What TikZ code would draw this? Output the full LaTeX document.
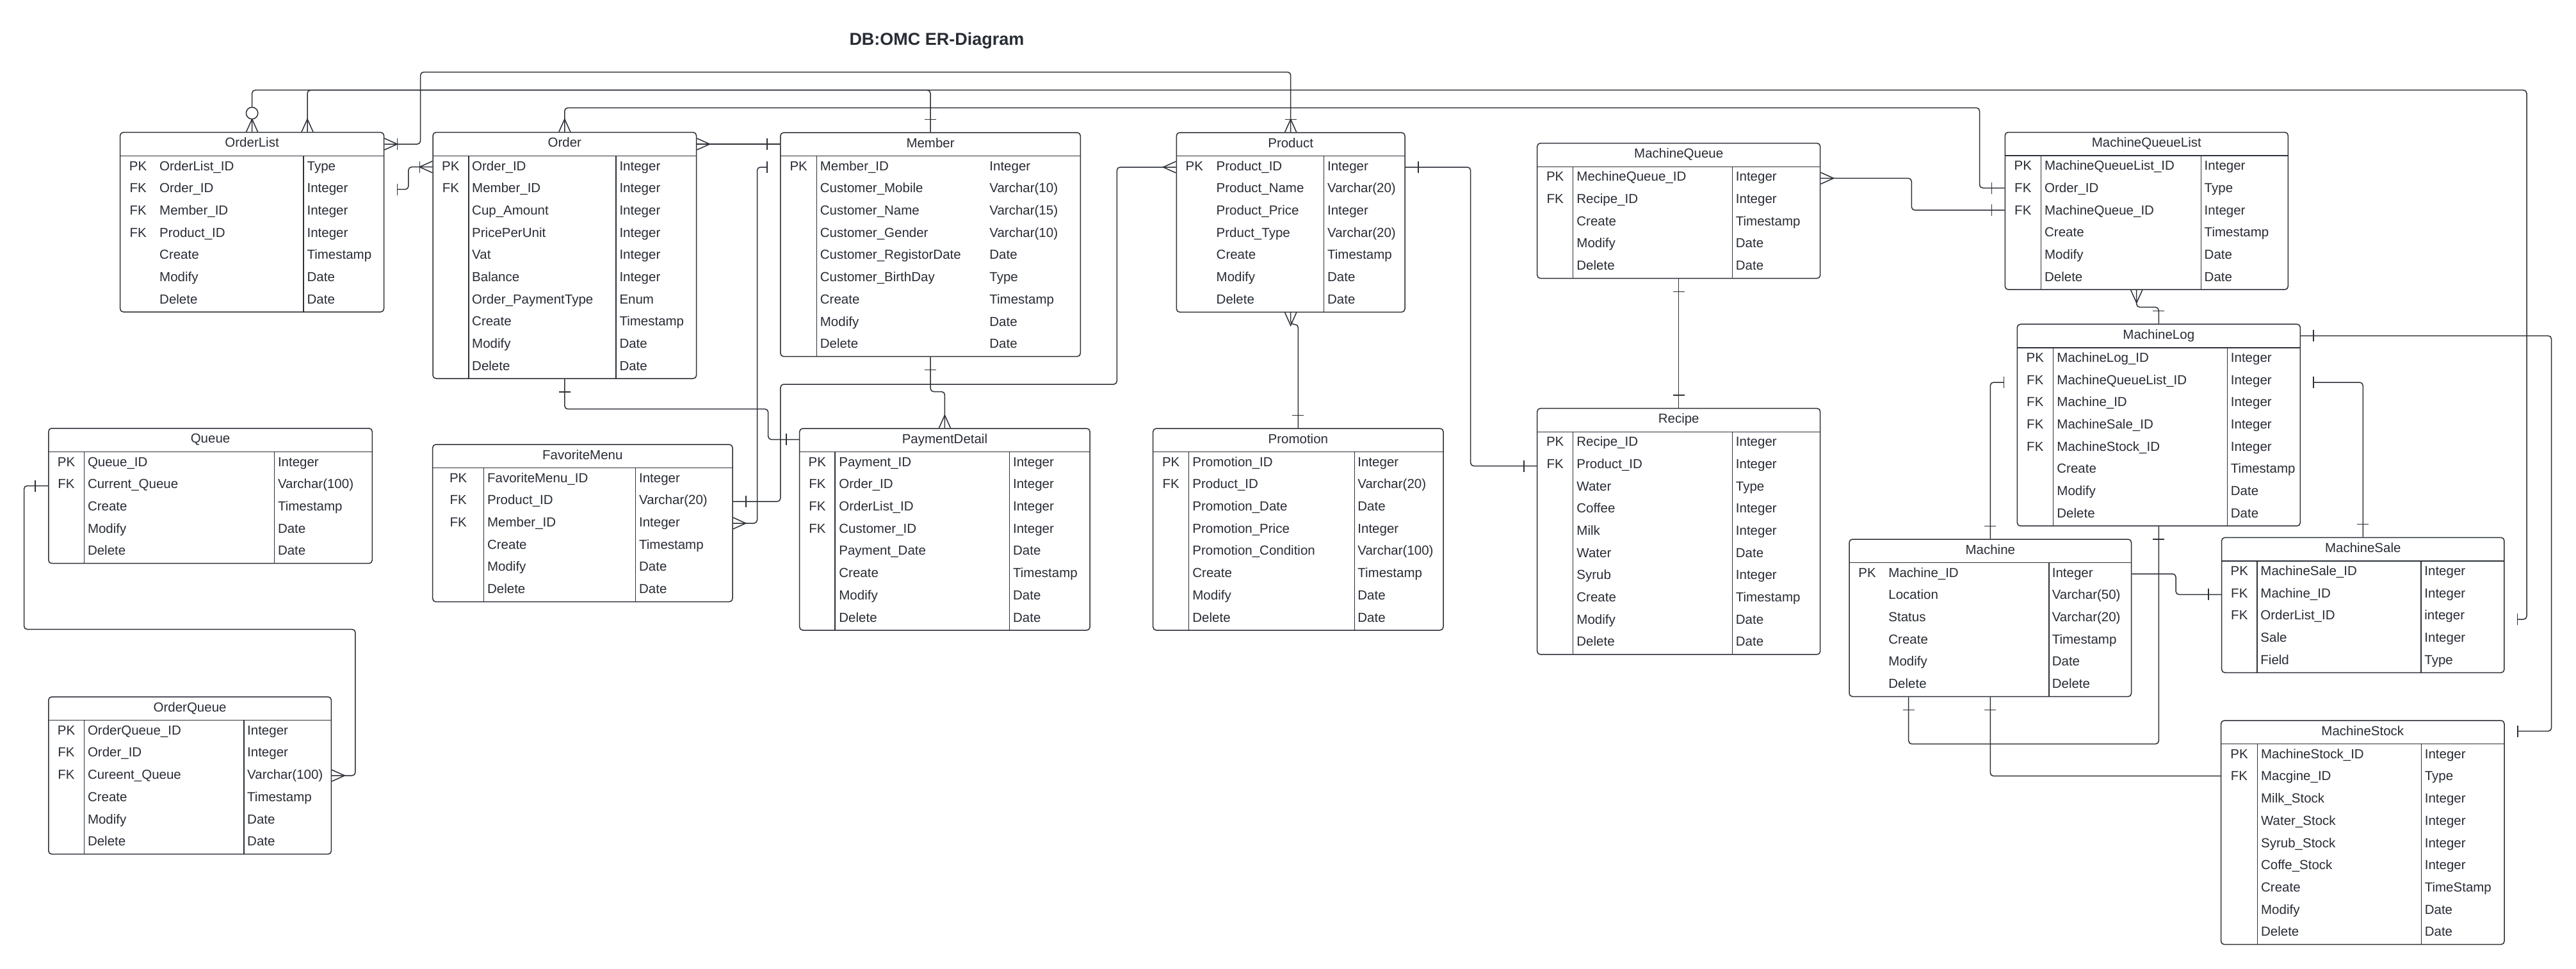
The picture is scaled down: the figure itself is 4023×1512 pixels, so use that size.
\documentclass[tikz,border=0pt]{standalone}
\usepackage{fontspec}
\setmainfont{Liberation Sans}
\usetikzlibrary{fit,calc}
\definecolor{erline}{RGB}{45,49,56}
\definecolor{ertext}{RGB}{40,44,52}
\tikzset{
 erTbl/.style={draw=erline, line width=0.75pt, rounded corners=2.5pt, inner sep=0pt},
 erLn/.style={draw=erline, line width=0.75pt},
 erTtl/.style={anchor=base, inner sep=0pt, text=ertext, font=\fontsize{10.25}{12}\selectfont},
 erKey/.style={anchor=base, inner sep=0pt, text=ertext, font=\fontsize{10.25}{12}\selectfont},
 erFld/.style={anchor=base west, inner sep=0pt, text=ertext, font=\fontsize{10.25}{12}\selectfont},
 erConn/.style={draw=erline, line width=0.75pt, rounded corners=2.5pt},
 erMk/.style={draw=erline, line width=0.75pt},
 pics/erCrow/.style={code={\draw[erMk] (0,9) -- (20,0) -- (0,-9);}},
 pics/erBar/.style={code={\draw[erMk] (20,9) -- (20,-9);}},
 pics/erCirc/.style={code={\draw[erMk, fill=white] (29.3,0) circle[radius=4.6pt];}},
}
\newcommand\erTable[6]{%
  \def\erN{#1}\def\erT{#4}%
  \pgfmathsetmacro\erB{#4+72.3+34.67*(#5-1)}%
  \pgfmathsetmacro\erH{#4+36.7}%
  \node[erTbl, fit={(#2,#4) (#3,\erB)}] (#1) {};%
  \draw[erLn] (#2,\erH) -- (#3,\erH);%
  \node[erTtl] (#1-title) at ({(#2+#3)/2},{#4+23}) {#6};%
}
\newcommand\erDiv[1]{\draw[erLn] (#1,\erH) -- (#1,\erB);}
\newcommand\erCols[3]{\def\erKx{#1}\def\erNx{#2}\def\erYx{#3}}
\newcommand\erRow[4]{%
  \pgfmathsetmacro\erY{\erT+59.3+34.67*#1}%
  \if\relax\detokenize{#2}\relax\else\node[erKey] (\erN-k#1) at (\erKx,\erY) {#2};\fi
  \node[erFld] (\erN-f#1) at (\erNx,\erY) {#3};%
  \node[erFld] (\erN-t#1) at (\erYx,\erY) {#4};%
}
\begin{document}
\begin{tikzpicture}[x=0.5pt,y=-0.5pt]
\fill[white] (0,0) rectangle (4023,1512);
\useasboundingbox (0,0) rectangle (4023,1512);

\node[anchor=base, inner sep=0pt, text=ertext, font=\bfseries\fontsize{13.5}{16}\selectfont] (diagtitle) at (1463,70) {DB:OMC ER-Diagram};

% OrderList
\erTable{OL}{187.6}{599.6}{206.7}{7}{OrderList}
\erDiv{474.2}
\erCols{215.6}{248.8}{479.2}
\erRow{0}{PK}{OrderList\_ID}{Type}
\erRow{1}{FK}{Order\_ID}{Integer}
\erRow{2}{FK}{Member\_ID}{Integer}
\erRow{3}{FK}{Product\_ID}{Integer}
\erRow{4}{}{Create}{Timestamp}
\erRow{5}{}{Modify}{Date}
\erRow{6}{}{Delete}{Date}

% Order
\erTable{OR}{676}{1087.6}{206.7}{10}{Order}
\erDiv{731.8}\erDiv{962.1}
\erCols{703.9}{736.8}{967.1}
\erRow{0}{PK}{Order\_ID}{Integer}
\erRow{1}{FK}{Member\_ID}{Integer}
\erRow{2}{}{Cup\_Amount}{Integer}
\erRow{3}{}{PricePerUnit}{Integer}
\erRow{4}{}{Vat}{Integer}
\erRow{5}{}{Balance}{Integer}
\erRow{6}{}{Order\_PaymentType}{Enum}
\erRow{7}{}{Create}{Timestamp}
\erRow{8}{}{Modify}{Date}
\erRow{9}{}{Delete}{Date}

% Member
\erTable{MB}{1218.9}{1687.3}{207}{9}{Member}
\erDiv{1275.5}
\erCols{1247.2}{1280.5}{1545}
\erRow{0}{PK}{Member\_ID}{Integer}
\erRow{1}{}{Customer\_Mobile}{Varchar(10)}
\erRow{2}{}{Customer\_Name}{Varchar(15)}
\erRow{3}{}{Customer\_Gender}{Varchar(10)}
\erRow{4}{}{Customer\_RegistorDate}{Date}
\erRow{5}{}{Customer\_BirthDay}{Type}
\erRow{6}{}{Create}{Timestamp}
\erRow{7}{}{Modify}{Date}
\erRow{8}{}{Delete}{Date}

% Product
\erTable{PR}{1837.3}{2194}{207}{7}{Product}
\erDiv{2067.3}
\erCols{1865.3}{1899.3}{2072.7}
\erRow{0}{PK}{Product\_ID}{Integer}
\erRow{1}{}{Product\_Name}{Varchar(20)}
\erRow{2}{}{Product\_Price}{Integer}
\erRow{3}{}{Prduct\_Type}{Varchar(20)}
\erRow{4}{}{Create}{Timestamp}
\erRow{5}{}{Modify}{Date}
\erRow{6}{}{Delete}{Date}

% MachineQueue
\erTable{MQ}{2400.7}{2842.7}{223.6}{5}{MachineQueue}
\erDiv{2456.7}\erDiv{2705.3}
\erCols{2428.7}{2462}{2710.5}
\erRow{0}{PK}{MechineQueue\_ID}{Integer}
\erRow{1}{FK}{Recipe\_ID}{Integer}
\erRow{2}{}{Create}{Timestamp}
\erRow{3}{}{Modify}{Date}
\erRow{4}{}{Delete}{Date}

% MachineQueueList
\erTable{MQL}{3131.3}{3573.3}{206.5}{6}{MachineQueueList}
\erDiv{3187.3}\erDiv{3437.3}
\erCols{3159.3}{3192.7}{3442.3}
\erRow{0}{PK}{MachineQueueList\_ID}{Integer}
\erRow{1}{FK}{Order\_ID}{Type}
\erRow{2}{FK}{MachineQueue\_ID}{Integer}
\erRow{3}{}{Create}{Timestamp}
\erRow{4}{}{Modify}{Date}
\erRow{5}{}{Delete}{Date}

% MachineLog
\erTable{ML}{3150.3}{3592.3}{506.2}{8}{MachineLog}
\erDiv{3206.3}\erDiv{3478.7}
\erCols{3178.3}{3212}{3483.5}
\erRow{0}{PK}{MachineLog\_ID}{Integer}
\erRow{1}{FK}{MachineQueueList\_ID}{Integer}
\erRow{2}{FK}{Machine\_ID}{Integer}
\erRow{3}{FK}{MachineSale\_ID}{Integer}
\erRow{4}{FK}{MachineStock\_ID}{Integer}
\erRow{5}{}{Create}{Timestamp}
\erRow{6}{}{Modify}{Date}
\erRow{7}{}{Delete}{Date}

% Queue
\erTable{QU}{75.8}{581.3}{668.75}{5}{Queue}
\erDiv{131.3}\erDiv{428.6}
\erCols{103.5}{136.6}{433.6}
\erRow{0}{PK}{Queue\_ID}{Integer}
\erRow{1}{FK}{Current\_Queue}{Varchar(100)}
\erRow{2}{}{Create}{Timestamp}
\erRow{3}{}{Modify}{Date}
\erRow{4}{}{Delete}{Date}

% FavoriteMenu
\erTable{FM}{675.7}{1144}{694}{6}{FavoriteMenu}
\erDiv{755.7}\erDiv{992.7}
\erCols{715.7}{760.7}{997.7}
\erRow{0}{PK}{FavoriteMenu\_ID}{Integer}
\erRow{1}{FK}{Product\_ID}{Varchar(20)}
\erRow{2}{FK}{Member\_ID}{Integer}
\erRow{3}{}{Create}{Timestamp}
\erRow{4}{}{Modify}{Date}
\erRow{5}{}{Delete}{Date}

% PaymentDetail
\erTable{PD}{1248.7}{1702.2}{669}{8}{PaymentDetail}
\erDiv{1304.2}\erDiv{1576.3}
\erCols{1276.4}{1310}{1581.7}
\erRow{0}{PK}{Payment\_ID}{Integer}
\erRow{1}{FK}{Order\_ID}{Integer}
\erRow{2}{FK}{OrderList\_ID}{Integer}
\erRow{3}{FK}{Customer\_ID}{Integer}
\erRow{4}{}{Payment\_Date}{Date}
\erRow{5}{}{Create}{Timestamp}
\erRow{6}{}{Modify}{Date}
\erRow{7}{}{Delete}{Date}

% Promotion
\erTable{PM}{1800.7}{2254}{669}{8}{Promotion}
\erDiv{1856.7}\erDiv{2115.3}
\erCols{1828.7}{1862}{2120}
\erRow{0}{PK}{Promotion\_ID}{Integer}
\erRow{1}{FK}{Product\_ID}{Varchar(20)}
\erRow{2}{}{Promotion\_Date}{Date}
\erRow{3}{}{Promotion\_Price}{Integer}
\erRow{4}{}{Promotion\_Condition}{Varchar(100)}
\erRow{5}{}{Create}{Timestamp}
\erRow{6}{}{Modify}{Date}
\erRow{7}{}{Delete}{Date}

% Recipe
\erTable{RC}{2400.7}{2842.7}{637.6}{10}{Recipe}
\erDiv{2456.7}\erDiv{2705.3}
\erCols{2428.7}{2462}{2710.5}
\erRow{0}{PK}{Recipe\_ID}{Integer}
\erRow{1}{FK}{Product\_ID}{Integer}
\erRow{2}{}{Water}{Type}
\erRow{3}{}{Coffee}{Integer}
\erRow{4}{}{Milk}{Integer}
\erRow{5}{}{Water}{Date}
\erRow{6}{}{Syrub}{Integer}
\erRow{7}{}{Create}{Timestamp}
\erRow{8}{}{Modify}{Date}
\erRow{9}{}{Delete}{Date}

% Machine
\erTable{MC}{2888}{3328.6}{842}{6}{Machine}
\erDiv{3200.2}
\erCols{2916}{2949}{3204.4}
\erRow{0}{PK}{Machine\_ID}{Integer}
\erRow{1}{}{Location}{Varchar(50)}
\erRow{2}{}{Status}{Varchar(20)}
\erRow{3}{}{Create}{Timestamp}
\erRow{4}{}{Modify}{Date}
\erRow{5}{}{Delete}{Delete}

% MachineSale
\erTable{MS}{3469.6}{3910.9}{839.3}{5}{MachineSale}
\erDiv{3525}\erDiv{3781}
\erCols{3497.3}{3530}{3786}
\erRow{0}{PK}{MachineSale\_ID}{Integer}
\erRow{1}{FK}{Machine\_ID}{Integer}
\erRow{2}{FK}{OrderList\_ID}{integer}
\erRow{3}{}{Sale}{Integer}
\erRow{4}{}{Field}{Type}

% MachineStock
\erTable{MST}{3468.6}{3911}{1125}{9}{MachineStock}
\erDiv{3525.4}\erDiv{3781.4}
\erCols{3497}{3530.7}{3786.4}
\erRow{0}{PK}{MachineStock\_ID}{Integer}
\erRow{1}{FK}{Macgine\_ID}{Type}
\erRow{2}{}{Milk\_Stock}{Integer}
\erRow{3}{}{Water\_Stock}{Integer}
\erRow{4}{}{Syrub\_Stock}{Integer}
\erRow{5}{}{Coffe\_Stock}{Integer}
\erRow{6}{}{Create}{TimeStamp}
\erRow{7}{}{Modify}{Date}
\erRow{8}{}{Delete}{Date}

% OrderQueue
\erTable{OQ}{75.8}{517.4}{1088}{6}{OrderQueue}
\erDiv{131.3}\erDiv{380.8}
\erCols{103.5}{136.6}{385.8}
\erRow{0}{PK}{OrderQueue\_ID}{Integer}
\erRow{1}{FK}{Order\_ID}{Integer}
\erRow{2}{FK}{Cureent\_Queue}{Varchar(100)}
\erRow{3}{}{Create}{Timestamp}
\erRow{4}{}{Modify}{Date}
\erRow{5}{}{Delete}{Date}

% ---------------- connectors ----------------
% OrderList -- Product
\draw[erConn] (OL.east|-0,225) -- (656.7,225) -- (656.7,112.5) -- (2015.7,112.5) -- (PR.north);
\pic at (OL.east|-0,225) {erCrow}; \pic at (OL.east|-0,225) {erBar};
\pic[rotate=90] at (PR.north) {erCrow}; \pic[rotate=90] at (PR.north) {erBar};
% OrderList -- MachineSale
\draw[erConn] (OL.north) -- (393.6,140.7) -- (3946,140.7) -- (3946,967) -- ($(MS.east|-0,967)+(20,0)$);
\pic[rotate=90] at (OL.north) {erCrow}; \pic[rotate=90] at (OL.north) {erCirc};
\pic at (MS.east|-0,967) {erBar};
% OrderList -- Member
\draw[erConn] (OL.north-|480,0) -- (480,140.7) -- (1453.1,140.7) -- (MB.north);
\pic[rotate=90] at (OL.north-|480,0) {erCrow};
\pic[rotate=90] at (MB.north) {erBar};
% OrderList -- Order
\draw[erConn] ($(OL.east|-0,295.7)+(20,0)$) -- (637.9,295.7) -- (637.9,260.7) -- (OR.west|-0,260.7);
\pic at (OL.east|-0,295.7) {erBar};
\pic[rotate=180] at (OR.west|-0,260.7) {erCrow}; \pic[rotate=180] at (OR.west|-0,260.7) {erBar};
% Order -- MachineQueueList
\draw[erConn] (OR.north) -- (881.8,168.3) -- (3091.5,168.3) -- (3091.5,293.5) -- (MQL.west|-0,293.5);
\pic[rotate=90] at (OR.north) {erCrow};
\pic[rotate=180] at (MQL.west|-0,293.5) {erBar};
% Order -- Member
\draw[erConn] (OR.east|-0,225) -- (MB.west|-0,225);
\pic at (OR.east|-0,225) {erCrow};
\pic[rotate=180] at (MB.west|-0,225) {erBar};
% Order -- PaymentDetail
\draw[erConn] (OR.south) -- (881.8,638.7) -- (1199.7,638.7) -- (1199.7,686.3) -- (PD.west|-0,686.3);
\pic[rotate=270] at (OR.south) {erBar};
\pic[rotate=180] at (PD.west|-0,686.3) {erBar};
% Member -- FavoriteMenu
\draw[erConn] ($(MB.west|-0,261)+(-20,0)$) -- (1182.5,261) -- (1182.5,817) -- (FM.east|-0,817);
\pic[rotate=180] at (MB.west|-0,261) {erBar};
\pic at (FM.east|-0,817) {erCrow};
% FavoriteMenu -- Product
\draw[erConn] (FM.east|-0,783) -- (1218.9,783) -- (1218.9,600) -- (1744.3,600) -- (1744.3,261) -- (PR.west|-0,261);
\pic at (FM.east|-0,783) {erBar};
\pic[rotate=180] at (PR.west|-0,261) {erCrow};
% Member -- PaymentDetail
\draw[erConn] (MB.south) -- (1453.1,611.5) -- (1475.45,611.5) -- (PD.north);
\pic[rotate=270] at (MB.south) {erBar};
\pic[rotate=90] at (PD.north) {erCrow};
% Product -- Promotion
\draw[erConn] (PR.south) -- (2015.65,506.5) -- (2027.35,506.5) -- (PM.north);
\pic[rotate=270] at (PR.south) {erCrow};
\pic[rotate=90] at (PM.north) {erBar};
% Product -- Recipe
\draw[erConn] (PR.east|-0,261) -- (2296.7,261) -- (2296.7,727.6) -- (RC.west|-0,727.6);
\pic at (PR.east|-0,261) {erBar};
\pic[rotate=180] at (RC.west|-0,727.6) {erBar};
% MachineQueue -- MachineQueueList
\draw[erConn] (MQ.east|-0,278.3) -- (2985.3,278.3) -- (2985.3,328.1) -- (MQL.west|-0,328.1);
\pic at (MQ.east|-0,278.3) {erCrow};
\pic[rotate=180] at (MQL.west|-0,328.1) {erBar};
% MachineQueue -- Recipe
\draw[erConn] (MQ.south) -- (RC.north);
\pic[rotate=270] at (MQ.south) {erBar};
\pic[rotate=90] at (RC.north) {erBar};
% MachineQueueList -- MachineLog
\draw[erConn] (MQL.south-|3336.7,0) -- (3336.7,479.7) -- (3371.3,479.7) -- (ML.north);
\pic[rotate=270] at (MQL.south-|3336.7,0) {erCrow};
\pic[rotate=90] at (ML.north) {erBar};
% MachineLog -- Machine (top)
\draw[erConn] ($(ML.west|-0,597)+(-20,0)$) -- (3108.3,597) -- (MC.north);
\pic[rotate=180] at (ML.west|-0,597) {erBar};
\pic[rotate=90] at (MC.north) {erBar};
% MachineLog -- Machine (bottom)
\draw[erConn] (ML.south) -- (3371.3,1161.7) -- (2980.7,1161.7) -- (MC.south-|2980.7,0);
\pic[rotate=270] at (ML.south) {erBar};
\pic[rotate=270] at (MC.south-|2980.7,0) {erBar};
% MachineLog -- MachineStock
\draw[erConn] (ML.east|-0,524.3) -- (3984.6,524.3) -- (3984.6,1141.7) -- ($(MST.east|-0,1141.7)+(20,0)$);
\pic at (ML.east|-0,524.3) {erBar};
\pic at (MST.east|-0,1141.7) {erBar};
% MachineLog -- MachineSale
\draw[erConn] ($(ML.east|-0,597)+(20,0)$) -- (3690.25,597) -- (MS.north);
\pic at (ML.east|-0,597) {erBar};
\pic[rotate=90] at (MS.north) {erBar};
% Machine -- MachineSale
\draw[erConn] (MC.east|-0,896) -- (3398,896) -- (3398,928.3) -- (MS.west|-0,928.3);
\pic[rotate=180] at (MS.west|-0,928.3) {erBar};
% Machine -- MachineStock
\draw[erConn] (MC.south) -- (3108.3,1211.7) -- (MST.west|-0,1211.7);
\pic[rotate=270] at (MC.south) {erBar};
% Queue -- OrderQueue
\draw[erConn] (QU.west|-0,758.5) -- (37.5,758.5) -- (37.5,982.6) -- (554.9,982.6) -- (554.9,1211) -- (OQ.east|-0,1211);
\pic[rotate=180] at (QU.west|-0,758.5) {erBar};
\pic at (OQ.east|-0,1211) {erCrow};
\end{tikzpicture}
\end{document}
